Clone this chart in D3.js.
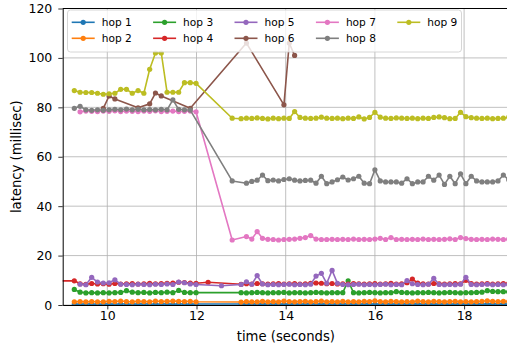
<!DOCTYPE html>
<html>
<head>
<meta charset="utf-8">
<script src="https://cdn.jsdelivr.net/npm/d3@7"></script>
<style>
  body { margin: 0; background: #fff; }
  svg { display: block; font-family: "DejaVu Sans", sans-serif; }
</style>
</head>
<body>
<div id="chart"></div>
<script>
// sample times (seconds); null in a series = no sample at that time
const times = [8.60,
  9.26, 9.39, 9.52, 9.65, 9.78, 9.91, 10.04, 10.17, 10.30, 10.43, 10.56, 10.69, 10.82, 10.95, 11.08, 11.21, 11.34, 11.47, 11.60, 11.73, 11.86, 11.99,
  12.26, 12.56, 12.80,
  13.00, 13.12, 13.24, 13.36, 13.48, 13.60, 13.72, 13.84, 13.96, 14.08,
  14.20, 14.32, 14.44, 14.56, 14.68, 14.80, 14.92, 15.04, 15.16, 15.28,
  15.40, 15.52, 15.64, 15.76, 15.88, 16.00, 16.12, 16.24, 16.36, 16.48,
  16.60, 16.72, 16.84, 16.96, 17.08, 17.20, 17.32, 17.44, 17.56, 17.68,
  17.80, 17.92, 18.04, 18.16, 18.28, 18.40, 18.52, 18.64, 18.76, 18.88,
  19.00];

const hop1 = [null,
  0.4, 0.3, 0.4, 0.4, 0.3, 0.4, 0.4, 0.3, 0.4, 0.4, 0.3, 0.4, 0.4, 0.4, 0.3, 0.4, 0.4, 0.3, 0.4, 0.4, 0.3, 0.4,
  null, null, null,
  0.4, 0.3, 0.4, 0.4, 0.3, 0.4, 0.4, 0.4, 0.3, 0.4,
  0.4, 0.3, 0.4, 0.4, 0.4, 0.3, 0.4, 0.4, 0.3, 0.4,
  0.4, 0.4, 0.3, 0.4, 0.4, 0.3, 0.4, 0.4, 0.4, 0.3,
  0.4, 0.4, 0.3, 0.4, 0.4, 0.4, 0.3, 0.4, 0.4, 0.3,
  0.4, 0.4, 0.4, 0.3, 0.4, 0.4, 0.3, 0.4, 0.4, 0.4,
  0.3];

const hop2 = [null,
  1.3, 1.4, 1.3, 1.4, 1.3, 1.3, 1.5, 1.4, 1.6, 1.4, 1.3, 1.5, 1.4, 1.3, 1.6, 1.4, 1.5, 1.6, 1.5, 1.4, 1.5, 1.3,
  null, null, null,
  1.2, 1.4, 1.3, 1.3, 1.5, 1.3, 1.4, 1.3, 1.6, 1.4,
  1.3, 1.4, 1.5, 1.3, 1.4, 1.6, 1.3, 1.4, 1.3, 1.5,
  1.3, 1.4, 1.3, 1.5, 1.4, 1.7, 1.4, 1.3, 1.5, 1.4,
  1.3, 1.4, 1.3, 1.6, 1.4, 1.3, 1.5, 1.4, 1.3, 1.4,
  1.5, 1.3, 1.4, 1.3, 1.4, 1.5, 1.7, 1.5, 1.4, 1.5,
  1.4];

const hop3 = [null,
  6.3, 5.2, 4.9, 5.0, 4.9, 5.0, 4.9, 5.0, 5.1, 5.8, 5.2, 5.0, 5.1, 4.9, 5.1, 5.0, 5.2, 5.0, 5.9, 5.1, 5.0, 5.0,
  null, null, null,
  5.0, 4.9, 5.0, 5.1, 5.0, 4.9, 5.0, 5.0, 5.1, 4.9,
  5.0, 5.0, 4.9, 5.0, 5.1, 5.0, 4.9, 5.0, 5.0, 5.0,
  9.8, 5.0, 4.9, 5.0, 5.1, 5.0, 4.9, 5.0, 5.0, 5.4,
  5.1, 5.0, 4.9, 5.0, 5.0, 5.1, 5.0, 4.9, 5.0, 5.1,
  5.0, 4.9, 5.0, 5.0, 5.1, 5.2, 5.8, 5.5, 5.4, 5.4,
  5.3];

const hop4 = [9.7,
  9.8, 8.6, 8.4, 8.7, 8.5, 8.6, 8.4, 8.7, 8.5, 8.6, 8.7, 8.5, 8.6, 8.8, 8.6, 8.7, 8.8, 8.9, 9.2, 9.1, 8.9, 8.8,
  9.2, null, null,
  8.4, 8.6, 8.5, 8.7, 8.6, 8.5, 8.6, 8.7, 8.5, 8.6,
  8.7, 8.5, 8.6, 8.8, 8.9, 8.8, 8.6, 8.7, 8.5, 8.6,
  8.5, 8.7, 8.6, 8.5, 8.6, 8.7, 8.5, 8.6, 8.8, 8.5,
  8.6, 9.0, 10.5, 8.9, 8.6, 8.5, 8.7, 8.6, 8.5, 8.6,
  8.7, 8.6, 10.0, 8.7, 8.5, 8.6, 8.7, 8.5, 8.6, 8.7,
  8.6];

const hop5 = [null,
  null, 8.4, 8.2, 11.2, 9.3, 8.9, 9.0, 10.2, 8.4, 8.3, 8.2, 8.4, 8.3, 8.2, 8.4, 8.3, 8.5, 8.3, 9.3, 9.0, 8.5, 8.3,
  null, 7.8, null,
  8.3, 9.4, 8.4, 11.9, 8.5, 8.2, 8.3, 8.2, 8.3, 8.4,
  8.2, 8.3, 8.2, 8.4, 11.7, 12.8, 8.8, 14.0, 8.8, 8.3,
  8.2, 8.3, 8.4, 8.2, 8.3, 8.2, 8.3, 8.4, 8.2, 8.3,
  8.2, 9.9, 8.6, 8.3, 8.2, 8.4, 10.8, 8.3, 8.2, 8.3,
  8.2, 8.4, 11.2, 8.3, 8.2, 8.3, 8.4, 8.2, 8.3, 8.2,
  8.3];

const hop6 = [null,
  null, null, null, null, null, 79.6, 84.6, 83.4, null, null, null, 79.8, null, 81.4, 85.8, 84.6, null, null, null, null, 79.6, null,
  null, null, null,
  null, 106.0, null, null, null, null, null, null, 81.0, 106.0,
  101.0, null, null, null, null, null, null, null, null, null,
  null, null, null, null, null, null, null, null, null, null,
  null, null, null, null, null, null, null, null, null, null,
  null, null, null, null, null, null, null, null, null, null,
  null];

const hop7 = [null,
  null, 78.2, 78.5, 78.4, 78.3, 78.5, 78.4, 78.6, 78.3, 78.5, 78.4, 78.3, 78.5, 78.4, 78.6, 78.3, 78.4, 78.5, 78.3, 78.4, 78.5, 78.2,
  null, null, 26.3,
  null, 27.7, 26.7, 29.7, 27.0, 26.6, 26.5, 26.3, 26.5, 26.6,
  26.7, 27.0, 27.3, 28.1, 26.7, 26.5, 26.5, 26.6, 26.5, 26.6,
  26.5, 26.7, 26.5, 26.6, 26.5, 26.7, 27.0, 26.5, 27.3, 26.5,
  26.6, 26.5, 26.6, 26.5, 26.7, 26.5, 26.6, 26.5, 26.6, 26.8,
  26.5, 27.3, 26.9, 26.6, 26.5, 26.6, 26.5, 26.7, 26.6, 26.5,
  26.6];

const hop8 = [null,
  79.6, 80.4, 79.0, 78.8, 79.0, 78.8, 79.0, 79.2, 79.0, 79.3, 79.0, 79.2, 79.0, 79.1, 79.0, 79.2, 79.0, 83.0, 79.2, 79.0, 78.9, null,
  null, null, 50.2,
  null, 49.3, 50.0, 50.5, 52.6, 50.3, 50.6, 50.2, 50.8, 51.1,
  50.5, 50.2, 50.4, 50.5, 49.3, 52.1, 49.1, 49.8, 50.7, 51.8,
  50.6, 51.1, 52.1, 49.3, 49.1, 54.7, 50.2, 49.8, 49.8, 49.8,
  49.3, 51.1, 49.1, 49.8, 49.8, 52.1, 50.5, 52.6, 48.8, 52.1,
  49.1, 53.1, 49.1, 52.1, 50.2, 49.8, 49.8, 49.8, 50.2, 52.6,
  50.7];

const hop9 = [null,
  86.8, 86.1, 86.0, 86.0, 85.7, 85.3, 85.5, 85.7, 87.3, 87.3, 85.7, 86.8, 85.7, 95.4, 102.0, 102.0, 86.1, 86.1, 86.1, 90.0, 90.0, 89.7,
  null, null, 75.6,
  75.4, 75.6, 75.5, 75.7, 75.5, 75.3, 75.6, 75.4, 75.6, 75.5,
  78.3, 75.9, 75.6, 75.5, 75.6, 76.0, 75.6, 75.5, 75.6, 75.4,
  75.6, 75.5, 76.1, 75.3, 75.9, 78.0, 76.0, 75.6, 75.5, 75.7,
  75.6, 75.5, 75.6, 75.4, 75.6, 75.5, 75.9, 76.1, 75.8, 75.4,
  75.5, 78.0, 76.2, 75.8, 75.6, 75.5, 75.6, 75.4, 75.5, 75.6,
  76.0];

const seriesNames = ["hop 1", "hop 2", "hop 3", "hop 4", "hop 5", "hop 6", "hop 7", "hop 8", "hop 9"];
const seriesValues = [hop1, hop2, hop3, hop4, hop5, hop6, hop7, hop8, hop9];
const xTicks = [10, 12, 14, 16, 18];
const yTicks = [0, 20, 40, 60, 80, 100, 120];

const colors = ["#1f77b4", "#ff7f0e", "#2ca02c", "#d62728", "#9467bd",
                "#8c564b", "#e377c2", "#7f7f7f", "#bcbd22"];

const width = 507, height = 349;
const plotLeft = 62.7, plotRight = 508.7, plotTop = 8.5, plotBottom = 305;

const svg = d3.select("#chart").append("svg")
    .attr("width", width)
    .attr("height", height);

const x = d3.scaleLinear().domain([9, 19]).range([plotLeft, plotRight]);
const y = d3.scaleLinear().domain([0, 120]).range([plotBottom, plotTop]);

// grid
svg.append("g").selectAll("line")
    .data(xTicks).enter().append("line")
    .attr("x1", d => x(d)).attr("x2", d => x(d))
    .attr("y1", plotTop).attr("y2", plotBottom)
    .attr("stroke", "#b0b0b0").attr("stroke-width", 0.8);
svg.append("g").selectAll("line")
    .data(yTicks).enter().append("line")
    .attr("x1", plotLeft).attr("x2", plotRight)
    .attr("y1", d => y(d)).attr("y2", d => y(d))
    .attr("stroke", "#b0b0b0").attr("stroke-width", 0.8);

svg.append("clipPath").attr("id", "plotclip")
  .append("rect")
    .attr("x", plotLeft).attr("y", plotTop)
    .attr("width", plotRight - plotLeft).attr("height", plotBottom - plotTop);

const line = d3.line().x(d => x(d[0])).y(d => y(d[1]));

const plot = svg.append("g").attr("clip-path", "url(#plotclip)");
seriesValues.forEach((vals, i) => {
    const pts = times.map((t, j) => [t, vals[j]]).filter(d => d[1] != null);
    const g = plot.append("g");
    g.append("path")
        .datum(pts)
        .attr("d", line)
        .attr("fill", "none")
        .attr("stroke", colors[i])
        .attr("stroke-width", 1.6)
        .attr("stroke-linejoin", "round");
    g.selectAll("circle")
        .data(pts)
        .enter()
        .append("circle")
        .attr("cx", d => x(d[0]))
        .attr("cy", d => y(d[1]))
        .attr("r", 2.6)
        .attr("fill", colors[i]);
});

// axes
const xAxis = svg.append("g")
    .attr("transform", `translate(0,${plotBottom})`)
    .call(d3.axisBottom(x).tickValues(xTicks).tickSize(4.4).tickSizeOuter(0).tickPadding(1.5));
const yAxis = svg.append("g")
    .attr("transform", `translate(${plotLeft},0)`)
    .call(d3.axisLeft(y).tickValues(yTicks).tickSize(4.4).tickSizeOuter(0).tickPadding(6));
[xAxis, yAxis].forEach(a => {
    a.selectAll("text").attr("font-size", 12.5).attr("font-family", "DejaVu Sans").attr("fill", "#000");
    a.selectAll("line").attr("stroke", "#000").attr("stroke-width", 0.8);
    a.select(".domain").attr("stroke", "#000").attr("stroke-width", 1);
});
// top spine
svg.append("line")
    .attr("x1", plotLeft).attr("x2", plotRight)
    .attr("y1", plotTop).attr("y2", plotTop)
    .attr("stroke", "#000").attr("stroke-width", 1);

svg.append("text")
    .attr("x", (plotLeft + 507) / 2 + 1)
    .attr("y", 341)
    .attr("text-anchor", "middle")
    .attr("font-size", 13.2)
    .text("time (seconds)");
svg.append("text")
    .attr("transform", `translate(20.5,${(plotTop + plotBottom) / 2}) rotate(-90)`)
    .attr("text-anchor", "middle")
    .attr("font-size", 13.2)
    .text("latency (millisec)");

// legend
const legend = svg.append("g");
legend.append("rect")
    .attr("x", 67.5).attr("y", 10)
    .attr("width", 394).attr("height", 42)
    .attr("rx", 3)
    .attr("fill", "#fff").attr("fill-opacity", 0.8)
    .attr("stroke", "#cccccc").attr("stroke-width", 0.8);
const items = legend.selectAll("g")
    .data(seriesNames)
    .enter().append("g")
    .attr("transform", (d, i) => `translate(${71.7 + Math.floor(i / 2) * 81.4},${22.3 + (i % 2) * 16})`);
items.append("line")
    .attr("x1", 0).attr("x2", 23)
    .attr("stroke", (d, i) => colors[i]).attr("stroke-width", 1.6);
items.append("circle")
    .attr("cx", 11.5).attr("r", 2.6)
    .attr("fill", (d, i) => colors[i]);
items.append("text")
    .attr("x", 30).attr("dy", "0.36em")
    .attr("font-size", 10.6)
    .text(d => d);
</script>
</body>
</html>
